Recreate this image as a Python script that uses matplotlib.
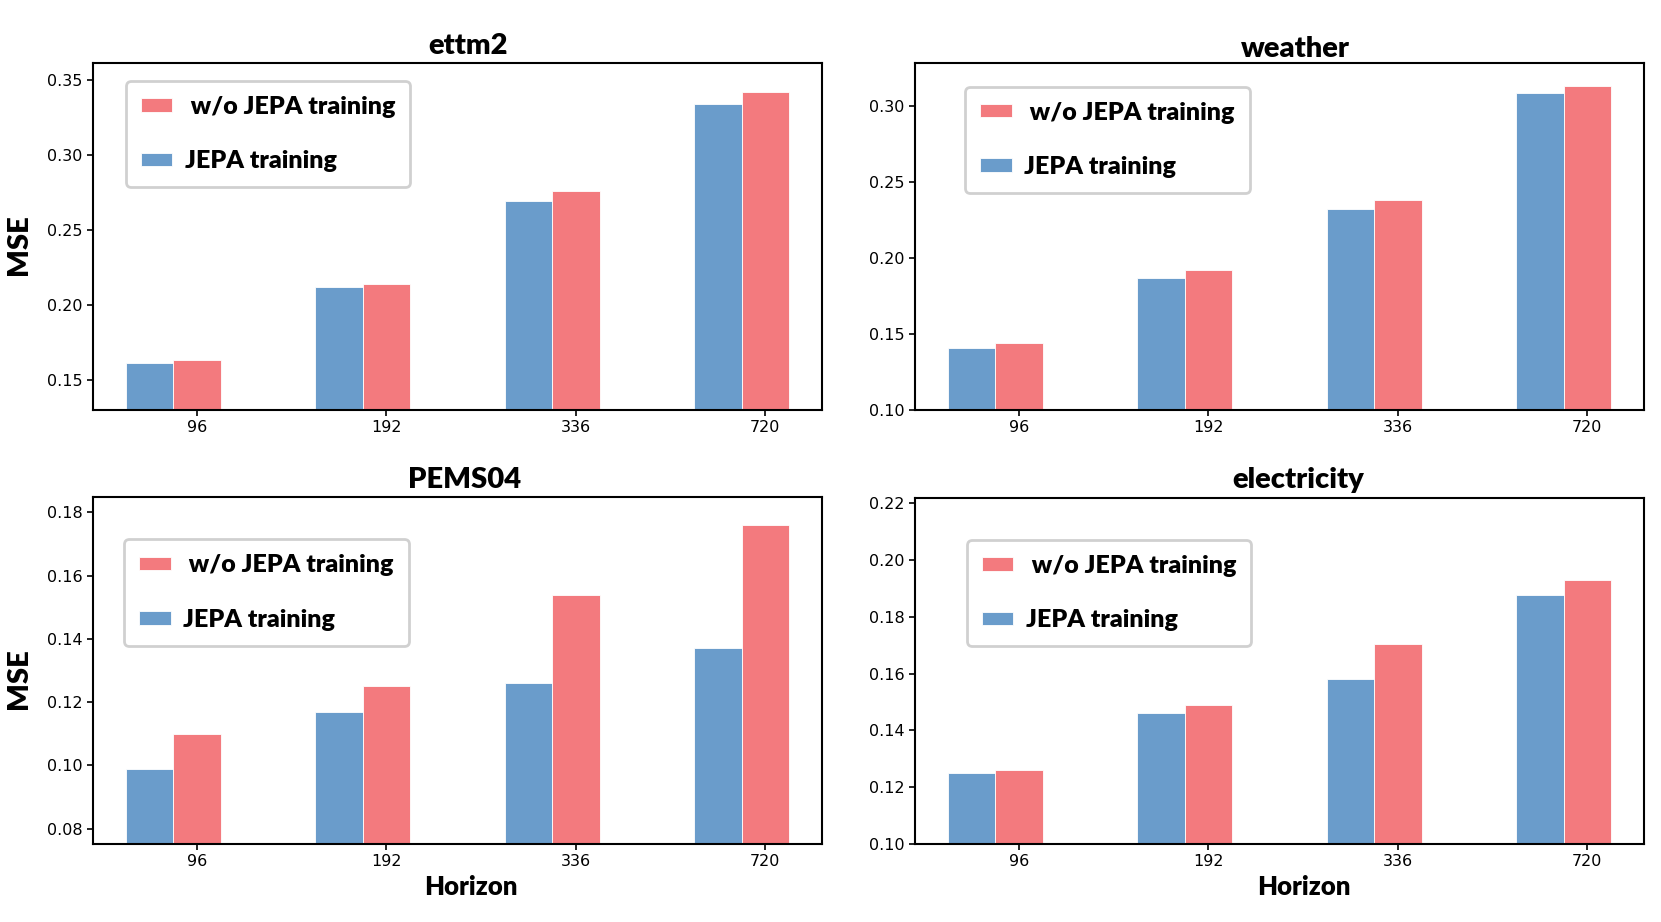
import numpy as np
import matplotlib
matplotlib.use("Agg")
import matplotlib.pyplot as plt

# horizons on the x axis
horizons = ["96", "192", "336", "720"]

# MSE per dataset
ettm2_jepa = [0.161, 0.212, 0.269, 0.334]
ettm2_nojepa = [0.163, 0.214, 0.276, 0.342]

weather_jepa = [0.141, 0.187, 0.232, 0.308]
weather_nojepa = [0.144, 0.192, 0.238, 0.313]

pems04_jepa = [0.099, 0.117, 0.126, 0.137]
pems04_nojepa = [0.110, 0.125, 0.154, 0.176]

electricity_jepa = [0.125, 0.146, 0.158, 0.1875]
electricity_nojepa = [0.126, 0.149, 0.1705, 0.193]

BLUE = "#6a9ccb"
RED = "#f37a7e"
BOLD_FONT = ["Lato", "DejaVu Sans"]
WEIGHT = "heavy"

W, H = 1661, 922
fig = plt.figure(figsize=(W / 100, H / 100), dpi=100)


def px_rect(x0, y0, x1, y1):
    """Axes rect from pixel box (top-left origin)."""
    return [x0 / W, 1 - y1 / H, (x1 - x0) / W, (y1 - y0) / H]


panels = [
    # name, jepa, nojepa, rect, ylim, yticks, legend anchor, title x, title baseline, ylabel, xlabel
    ("ettm2", ettm2_jepa, ettm2_nojepa, px_rect(93, 63, 822, 410), (0.13, 0.361),
     [0.15, 0.20, 0.25, 0.30, 0.35], (0.045, 0.949), 468, 54, True, False),
    ("weather", weather_jepa, weather_nojepa, px_rect(915, 63, 1644, 410), (0.10, 0.328),
     [0.10, 0.15, 0.20, 0.25, 0.30], (0.069, 0.932), 1295, 57, False, False),
    ("PEMS04", pems04_jepa, pems04_nojepa, px_rect(93, 497, 822, 844), (0.0752, 0.1848),
     [0.08, 0.10, 0.12, 0.14, 0.16, 0.18], (0.043, 0.878), 465, 488, True, True),
    ("electricity", electricity_jepa, electricity_nojepa, px_rect(915, 498, 1644, 844), (0.10, 0.2218),
     [0.10, 0.12, 0.14, 0.16, 0.18, 0.20, 0.22], (0.071, 0.879), 1298, 488, False, True),
]

x = np.arange(len(horizons))
width = 0.25

for name, jepa, nojepa, rect, ylim, yticks, anchor, tx, ty, show_ylabel, show_xlabel in panels:
    ax = fig.add_axes(rect)
    b1 = ax.bar(x, jepa, width, color=BLUE, edgecolor="white", linewidth=0.6, label="JEPA training")
    b2 = ax.bar(x + width, nojepa, width, color=RED, edgecolor="white", linewidth=0.6,
                label=" w/o JEPA training")
    ax.set_xticks(x + width)
    ax.set_xticklabels(horizons)
    ax.set_xlim(-0.3, 3.55)
    ax.set_ylim(*ylim)
    ax.set_yticks(yticks)
    ax.set_yticklabels([f"{t:.2f}" for t in yticks])
    ax.tick_params(labelsize=11.5, length=4, width=1.2)
    for s in ax.spines.values():
        s.set_linewidth(1.5)

    leg = ax.legend([b2, b1], [" w/o JEPA training", "JEPA training"],
                    loc="upper left", bbox_to_anchor=anchor, borderaxespad=0,
                    prop={"family": BOLD_FONT, "weight": WEIGHT, "size": 18},
                    handlelength=1.25, handleheight=0.45, handletextpad=0.5,
                    labelspacing=1.3, borderpad=0.6, fancybox=True, framealpha=1)
    leg.get_frame().set_edgecolor("#d0d0d0")
    leg.get_frame().set_linewidth(2)

    fig.text(tx / W, 1 - ty / H, name, ha="center", va="baseline",
             family=BOLD_FONT, fontweight=WEIGHT, fontsize=21)

    if show_ylabel:
        fig.text(19 / W, rect[1] + rect[3] / 2 - 8 / H, "MSE", rotation=90, ha="center", va="center",
                 family=BOLD_FONT, fontweight=WEIGHT, fontsize=21)
    if show_xlabel:
        fig.text((tx + 6) / W, 1 - 887 / H, "Horizon", ha="center", va="center",
                 family=BOLD_FONT, fontweight=WEIGHT, fontsize=18.5)

fig.savefig("out.png", dpi=100)
